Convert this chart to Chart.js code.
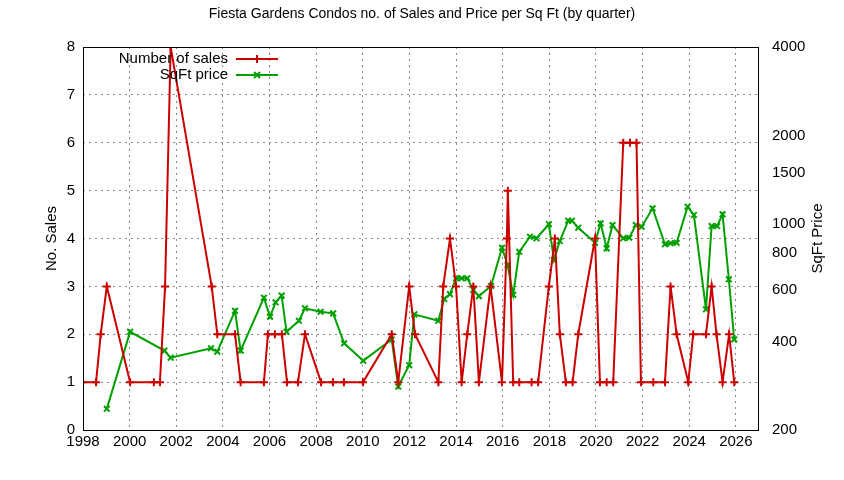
<!DOCTYPE html>
<html><head><meta charset="utf-8">
<script src="https://cdn.jsdelivr.net/npm/chart.js@4/dist/chart.umd.min.js"></script>
<style>body{margin:0;background:#fff}#w{width:844px;height:480px}</style>
</head><body><div id="w"><canvas id="c"></canvas></div>
<script>
const salesYears=[1998.0,1998.56,1998.76,1999.02,2000.02,2001.04,2001.30,2001.52,2001.76,2003.52,2003.76,2004.52,2004.76,2005.76,2005.93,2006.23,2006.53,2006.75,2007.22,2007.52,2008.21,2008.72,2009.19,2010.01,2011.24,2011.52,2011.99,2012.24,2013.24,2013.45,2013.74,2014.0,2014.24,2014.48,2014.74,2014.98,2015.48,2015.97,2016.18,2016.22,2016.45,2016.71,2017.24,2017.52,2017.98,2018.24,2018.45,2018.71,2019.0,2019.24,2019.96,2020.17,2020.46,2020.74,2021.17,2021.46,2021.74,2021.93,2022.46,2022.96,2023.2,2023.46,2023.96,2024.17,2024.72,2024.96,2025.17,2025.43,2025.71,2025.93];
const salesCounts=[1,1,2,3,1,1,1,3,8,3,2,2,1,1,2,2,2,1,1,2,1,1,1,1,2,1,3,2,1,3,4,3,1,2,3,1,3,1,4,5,1,1,1,1,3,4,2,1,1,2,4,1,1,1,6,6,6,1,1,1,3,2,1,2,2,3,2,1,2,1];
const priceYears=[1999.02,2000.02,2001.49,2001.76,2003.49,2003.76,2004.52,2004.76,2005.76,2006.02,2006.26,2006.52,2006.73,2007.26,2007.52,2008.19,2008.73,2009.2,2010.02,2011.24,2011.52,2011.99,2012.21,2013.24,2013.49,2013.74,2014.0,2014.24,2014.48,2014.74,2014.98,2015.5,2015.97,2016.21,2016.45,2016.71,2017.17,2017.45,2017.98,2018.2,2018.45,2018.81,2018.97,2019.24,2019.96,2020.2,2020.46,2020.71,2021.17,2021.43,2021.71,2021.96,2022.43,2022.96,2023.2,2023.46,2023.93,2024.2,2024.72,2024.96,2025.2,2025.43,2025.7,2025.93];
const priceValues=[236,431,372,352,379,369,508,372,563,485,543,572,431,470,518,504,498,394,344,406,281,332,494,470,557,579,655,655,655,598,570,617,832,727,575,806,907,896,1000,756,877,1028,1028,973,865,1007,828,994,896,900,994,980,1133,855,862,865,1147,1075,514,986,986,1081,650,406];
const xTicks=[1998,2000,2002,2004,2006,2008,2010,2012,2014,2016,2018,2020,2022,2024,2026];
const leftTicks=[0,1,2,3,4,5,6,7,8];
const rightTicks=[200,400,600,800,1000,1500,2000,4000];
const titleText='Fiesta Gardens Condos no. of Sales and Price per Sq Ft (by quarter)';
const RED='#cc0000',GREEN='#00a000';
const font={family:'Liberation Sans, Arial, sans-serif',size:15};
const deco={id:'deco',
 afterDraw(ch){const c=ch.ctx,a=ch.chartArea;c.save();
  c.strokeStyle='#000';c.lineWidth=1;c.strokeRect(a.left+0.5,a.top+0.5,a.right-a.left,a.bottom-a.top);
  c.fillStyle='#000';c.font='14px Liberation Sans, Arial, sans-serif';c.textAlign='center';c.textBaseline='middle';
  c.fillText(titleText,422,14);
  c.font='15px Liberation Sans, Arial, sans-serif';
  c.save();c.translate(52,(a.top+a.bottom)/2);c.rotate(-Math.PI/2);c.fillText('No. Sales',0,0);c.restore();
  c.save();c.translate(818,(a.top+a.bottom)/2);c.rotate(-Math.PI/2);c.fillText('SqFt Price',0,0);c.restore();
  const items=[['Number of sales',RED,'cross'],['SqFt price',GREEN,'crossRot']];
  items.forEach((it,i)=>{const y=59+i*16;c.textAlign='right';c.fillStyle='#000';c.fillText(it[0],228,y);
   c.strokeStyle=it[1];c.lineWidth=2;c.beginPath();c.moveTo(236,y);c.lineTo(278,y);c.stroke();
   c.beginPath();const x=257;if(it[2]==='cross'){c.moveTo(x-4,y);c.lineTo(x+4,y);c.moveTo(x,y-4);c.lineTo(x,y+4);}else{c.moveTo(x-3,y-3);c.lineTo(x+3,y+3);c.moveTo(x+3,y-3);c.lineTo(x-3,y+3);}c.stroke();});
  c.restore();}};
new Chart(document.getElementById('c'),{type:'line',
 data:{datasets:[
  {label:'Number of sales',data:salesYears.map((x,i)=>({x,y:salesCounts[i]})),yAxisID:'y',borderColor:RED,backgroundColor:RED,borderWidth:2,pointStyle:'cross',pointRadius:4,pointBorderWidth:2,tension:0},
  {label:'SqFt price',data:priceYears.map((x,i)=>({x,y:priceValues[i]})),yAxisID:'y1',borderColor:GREEN,backgroundColor:GREEN,borderWidth:2,pointStyle:'crossRot',pointRadius:4,pointBorderWidth:2,tension:0}]},
 options:{responsive:true,maintainAspectRatio:false,animation:false,
  layout:{padding:{top:47,left:0,right:0,bottom:0}},
  plugins:{legend:{display:false},title:{display:false},tooltip:{enabled:false}},
  scales:{
   x:{type:'linear',min:1998,max:2026.95,afterBuildTicks:s=>{s.ticks=xTicks.map(v=>({value:v}))},
    ticks:{color:'#000',font,autoSkip:false,maxRotation:0,callback:v=>String(v)},
    grid:{color:'#888',lineWidth:1,tickLength:0,drawTicks:false},border:{display:false,dash:[2,4]},afterFit:s=>{s.height=50}},
   y:{position:'left',min:0,max:8,afterBuildTicks:s=>{s.ticks=leftTicks.map(v=>({value:v}))},
    ticks:{color:'#000',font,padding:8},grid:{color:'#888',drawTicks:false},border:{display:false,dash:[2,4]},afterFit:s=>{s.width=83}},
   y1:{type:'logarithmic',position:'right',min:200,max:4000,afterBuildTicks:s=>{s.ticks=rightTicks.map(v=>({value:v}))},
    ticks:{color:'#000',font,padding:6,align:'center',callback:v=>String(v)},grid:{display:false},border:{display:false},afterFit:s=>{s.width=86}}}},
 plugins:[deco]});
</script></body></html>
